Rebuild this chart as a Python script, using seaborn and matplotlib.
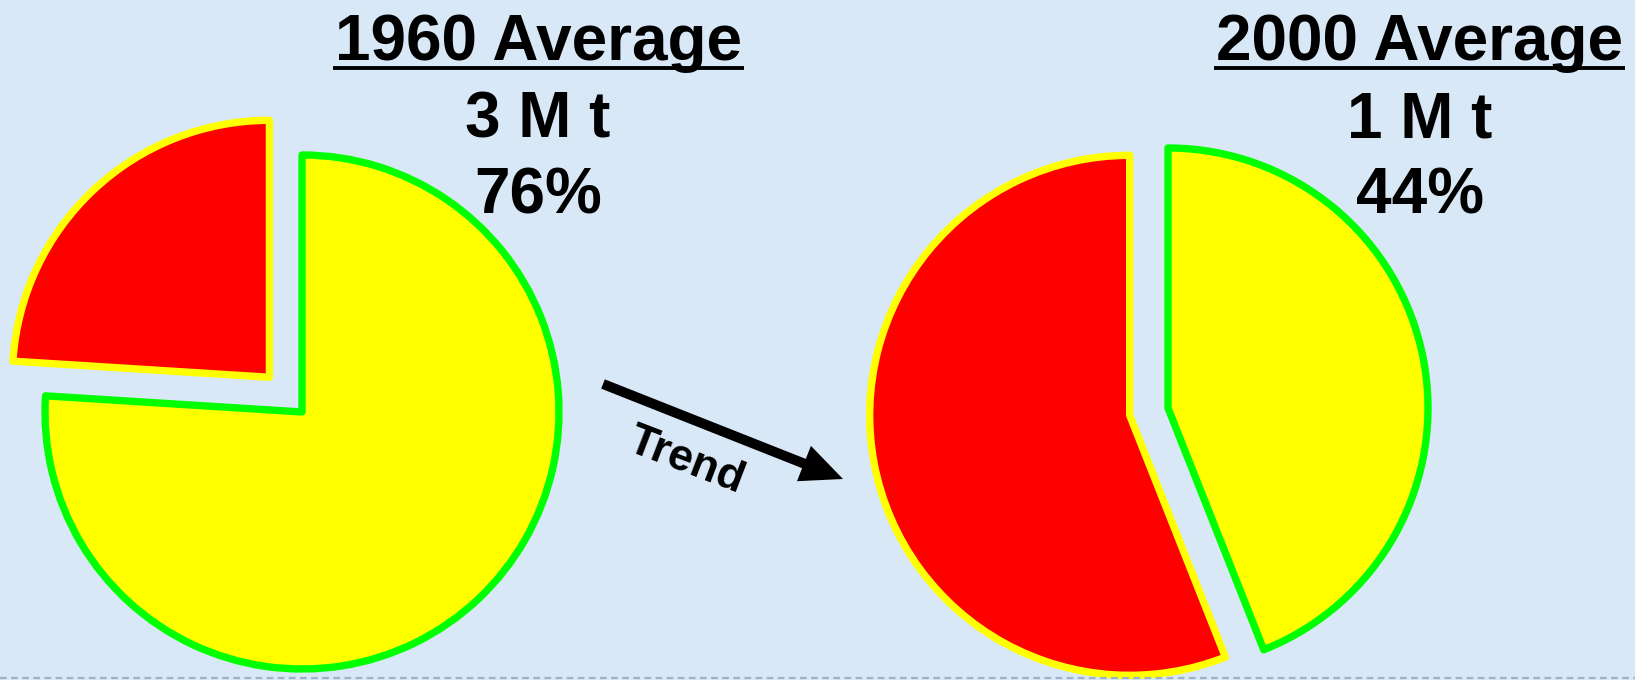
import matplotlib
matplotlib.use("Agg")
import matplotlib.pyplot as plt
import seaborn as sns

# Shares of the total (percent): first slice yellow, second slice red
years = ["1960", "2000"]
yellow_share = [76, 44]
red_share = [24, 56]
tonnage_labels = ["3 M t", "1 M t"]
share_labels = ["76%", "44%"]
trend_label = "Trend"

sns.set_theme(style="white")
plt.rcParams["font.family"] = ["Liberation Sans", "DejaVu Sans"]

W, H = 1635, 680
BG = "#d9e8f6"
slice_colors = sns.color_palette(["#ffff00", "#ff0000"])
edge_colors = ["#00ff00", "#ffff00"]

fig = plt.figure(figsize=(W / 100, H / 100), dpi=100)
fig.patch.set_facecolor(BG)
ax = fig.add_axes([0, 0, 1, 1])
ax.set_facecolor(BG)


def py(y):
    """Convert a top-down pixel row into the axis' bottom-up coordinate."""
    return H - y


# Pie layouts: centre, radius and how far the red slice is pulled out
pie_centers = [(302, py(412)), (1168, py(408))]
pie_radii = [257, 260]
pie_offsets = [47.6, 39]
title_x = [538, 1420]

for i in range(len(years)):
    wedges, _ = ax.pie(
        [yellow_share[i], red_share[i]],
        colors=slice_colors,
        startangle=90,
        counterclock=False,
        center=pie_centers[i],
        radius=pie_radii[i],
        explode=[0, pie_offsets[i]],
        frame=True,
        wedgeprops=dict(linewidth=5.3, joinstyle="round"),
    )
    for w, ec in zip(wedges, edge_colors):
        w.set_edgecolor(ec)

    title = ax.text(title_x[i], py(60), f"{years[i]} Average", ha="center",
                    va="baseline", fontsize=46, fontweight="bold", color="black")
    ax.text(title_x[i], py(137), tonnage_labels[i], ha="center", va="baseline",
            fontsize=46, fontweight="bold", color="black")
    ax.text(title_x[i], py(213), share_labels[i], ha="center", va="baseline",
            fontsize=46, fontweight="bold", color="black")
    title._underline = True

ax.set_xlim(0, W)
ax.set_ylim(0, H)
ax.set_aspect("equal", adjustable="box")
ax.axis("off")

# Trend arrow between the two pies
ax.arrow(603, py(384), 843 - 603, -(479 - 384), width=10, head_width=38,
         head_length=42, length_includes_head=True, color="black", lw=0)
ax.text(686, py(461), trend_label, ha="center", va="center", rotation=-21,
        fontsize=32, fontweight="bold", color="black")

# Dashed rule along the bottom edge
ax.plot([0, W], [py(678), py(678)], color="#9fb1c5", lw=1.6,
        linestyle=(0, (3, 2)), solid_capstyle="butt")

# Underline the titles using their rendered extents
fig.canvas.draw()
renderer = fig.canvas.get_renderer()
inv = ax.transData.inverted()
for t in ax.texts:
    if getattr(t, "_underline", False):
        bb = t.get_window_extent(renderer)
        (x0, _), (x1, _) = inv.transform([(bb.x0, bb.y0), (bb.x1, bb.y1)])
        ax.plot([x0 - 2, x1 + 2], [py(68), py(68)], color="black", lw=2.8,
                solid_capstyle="butt")

fig.savefig("out.png", dpi=100, facecolor=BG)
